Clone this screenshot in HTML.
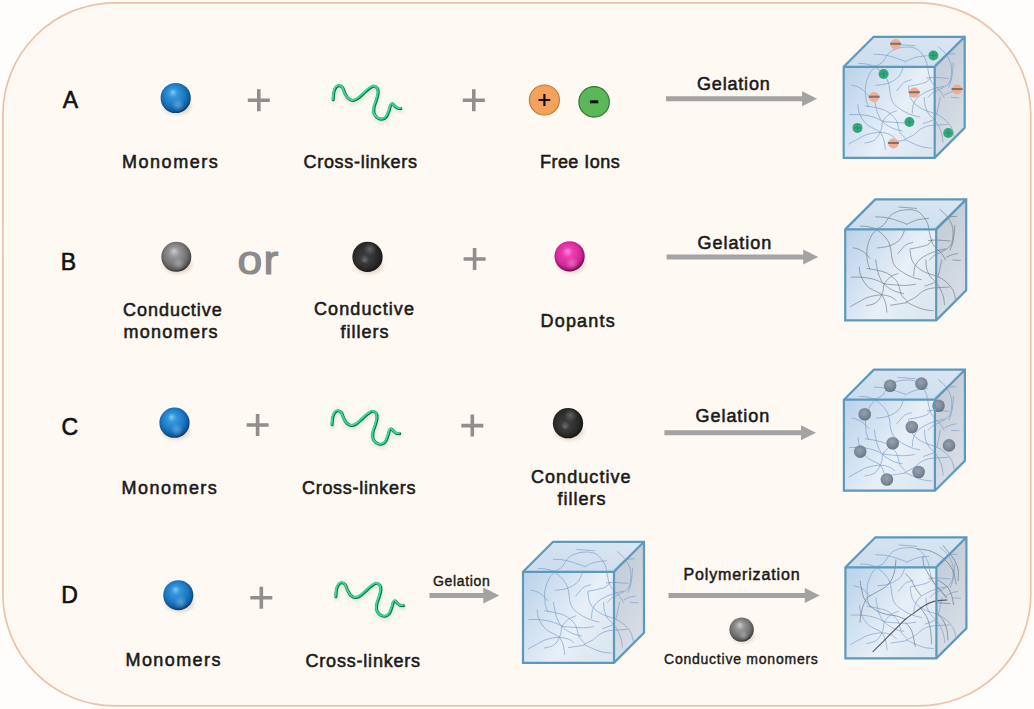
<!DOCTYPE html>
<html><head><meta charset="utf-8"><style>html,body{margin:0;padding:0;background:#fefefe;}svg{display:block}</style></head>
<body>
<svg width="1034" height="709" viewBox="0 0 1034 709">

<defs>
 <radialGradient id="gBlue" cx="0.47" cy="0.45" r="0.56" fx="0.4" fy="0.3">
  <stop offset="0" stop-color="#7fcaf6"/>
  <stop offset="0.25" stop-color="#3597db"/>
  <stop offset="0.65" stop-color="#1a78c2"/>
  <stop offset="0.88" stop-color="#0f5a9e"/>
  <stop offset="1" stop-color="#07325f"/>
 </radialGradient>
 <radialGradient id="gRefl" cx="0.58" cy="0.74" r="0.22">
  <stop offset="0" stop-color="#ffffff" stop-opacity="0.28"/>
  <stop offset="1" stop-color="#ffffff" stop-opacity="0"/>
 </radialGradient>
 <radialGradient id="gGray" cx="0.47" cy="0.45" r="0.56" fx="0.42" fy="0.3">
  <stop offset="0" stop-color="#cdcdcd"/>
  <stop offset="0.3" stop-color="#969696"/>
  <stop offset="0.72" stop-color="#707070"/>
  <stop offset="0.88" stop-color="#575757"/>
  <stop offset="1" stop-color="#2a2a2a"/>
 </radialGradient>
 <radialGradient id="gBlack" cx="0.45" cy="0.42" r="0.6" fx="0.4" fy="0.62">
  <stop offset="0" stop-color="#6e6e6e"/>
  <stop offset="0.25" stop-color="#3a3a3a"/>
  <stop offset="0.75" stop-color="#262626"/>
  <stop offset="1" stop-color="#111"/>
 </radialGradient>
 <radialGradient id="gBlackHi" cx="0.58" cy="0.24" r="0.22">
  <stop offset="0" stop-color="#777" stop-opacity="0.7"/>
  <stop offset="1" stop-color="#777" stop-opacity="0"/>
 </radialGradient>
 <radialGradient id="gPink" cx="0.47" cy="0.45" r="0.56" fx="0.43" fy="0.33">
  <stop offset="0" stop-color="#ff8eea"/>
  <stop offset="0.3" stop-color="#ec3cae"/>
  <stop offset="0.72" stop-color="#d42a98"/>
  <stop offset="0.88" stop-color="#a8167a"/>
  <stop offset="1" stop-color="#5c0642"/>
 </radialGradient>
 <radialGradient id="gSmall" cx="0.45" cy="0.42" r="0.6" fx="0.45" fy="0.38">
  <stop offset="0" stop-color="#8c9aaa"/>
  <stop offset="0.6" stop-color="#748292"/>
  <stop offset="1" stop-color="#5a6775"/>
 </radialGradient>
 <radialGradient id="gShadow" cx="0.5" cy="0.5" r="0.5">
  <stop offset="0" stop-color="#000" stop-opacity="0.25"/>
  <stop offset="1" stop-color="#000" stop-opacity="0"/>
 </radialGradient>
 <linearGradient id="gFront" x1="0" y1="0.1" x2="1" y2="0.7">
  <stop offset="0" stop-color="#bcd3ea"/>
  <stop offset="0.62" stop-color="#e7eff7"/>
  <stop offset="1" stop-color="#dce7f1"/>
 </linearGradient>
 <linearGradient id="gTop" x1="0" y1="1" x2="1" y2="0">
  <stop offset="0" stop-color="#cadcee"/>
  <stop offset="1" stop-color="#dbe6f1"/>
 </linearGradient>
 <linearGradient id="gSide" x1="0" y1="0" x2="0.3" y2="1">
  <stop offset="0" stop-color="#bec8d4"/>
  <stop offset="1" stop-color="#d8dee6"/>
 </linearGradient>
 <filter id="soft" x="-20%" y="-20%" width="140%" height="140%"><feGaussianBlur stdDeviation="0.45"/></filter>
 <filter id="shblur" x="-50%" y="-50%" width="200%" height="200%"><feGaussianBlur stdDeviation="1.5"/></filter>
</defs>

<rect width="1034" height="709" fill="#fffdfb"/>
<rect x="2.9" y="2.8" width="1027.9" height="703.1" rx="112" ry="112" fill="#fef9f2" stroke="#edc2a6" stroke-width="1.7"/>
<text x="70.5" y="107.6" font-size="23" font-weight="normal" fill="#111" text-anchor="middle" font-family="Liberation Sans, sans-serif" stroke="#111" stroke-width="0.6">A</text>
<text x="68.5" y="269.8" font-size="23" font-weight="normal" fill="#111" text-anchor="middle" font-family="Liberation Sans, sans-serif" stroke="#111" stroke-width="0.6">B</text>
<text x="69.7" y="434.5" font-size="23" font-weight="normal" fill="#111" text-anchor="middle" font-family="Liberation Sans, sans-serif" stroke="#111" stroke-width="0.6">C</text>
<text x="69.5" y="602.8" font-size="23" font-weight="normal" fill="#111" text-anchor="middle" font-family="Liberation Sans, sans-serif" stroke="#111" stroke-width="0.6">D</text>
<ellipse cx="177.2" cy="106.305" rx="14.344999999999999" ry="9.059999999999999" fill="#6b5030" fill-opacity="0.16" filter="url(#shblur)"/>
<circle cx="175.7" cy="98" r="15.1" fill="url(#gBlue)" filter="url(#soft)"/>
<circle cx="175.7" cy="98" r="15.1" fill="url(#gRefl)"/>
<path d="M247.8,100.3H269.8M258.8,89.3V111.3" stroke="#8f8f8f" stroke-width="3.6" fill="none"/>
<path d="M462.8,100.3H484.8M473.8,89.3V111.3" stroke="#8f8f8f" stroke-width="3.6" fill="none"/>
<g transform="translate(0,0)">
<path d="M333.2,99.8 C333.3,98.6 333.4,94.5 333.9,92.5 C334.4,90.5 335.1,88.6 336.0,87.5 C336.9,86.4 337.9,85.8 339.0,85.8 C340.1,85.8 341.6,86.4 342.6,87.6 C343.6,88.8 343.9,91.2 344.8,93.0 C345.7,94.8 346.7,97.0 348.0,98.3 C349.3,99.5 350.9,100.4 352.5,100.5 C354.1,100.6 355.8,99.8 357.5,98.8 C359.2,97.8 361.0,95.9 362.8,94.3 C364.6,92.7 366.7,90.6 368.5,89.3 C370.3,88.0 371.9,86.5 373.4,86.3 C374.9,86.1 376.5,87.2 377.3,88.3 C378.1,89.4 378.3,91.0 378.2,93.0 C378.1,95.0 377.2,97.7 376.5,100.0 C375.8,102.3 374.6,104.8 374.2,107.0 C373.8,109.2 373.5,111.2 374.0,113.0 C374.5,114.8 375.7,116.5 377.0,117.6 C378.3,118.6 380.4,119.4 382.0,119.3 C383.6,119.2 385.1,118.4 386.3,117.0 C387.5,115.6 388.3,112.9 389.0,111.0 C389.7,109.1 390.1,106.7 390.6,105.5 C391.2,104.3 391.6,103.7 392.3,103.8 C393.0,103.9 393.7,105.3 394.6,106.0 C395.5,106.7 396.6,107.8 397.6,108.2 C398.6,108.6 400.3,108.5 400.8,108.6" transform="translate(0.8,2.2)" stroke="#6b4a2a" stroke-opacity="0.14" stroke-width="3.6" fill="none" stroke-linecap="round" filter="url(#shblur)"/>
<path d="M333.2,99.8 C333.3,98.6 333.4,94.5 333.9,92.5 C334.4,90.5 335.1,88.6 336.0,87.5 C336.9,86.4 337.9,85.8 339.0,85.8 C340.1,85.8 341.6,86.4 342.6,87.6 C343.6,88.8 343.9,91.2 344.8,93.0 C345.7,94.8 346.7,97.0 348.0,98.3 C349.3,99.5 350.9,100.4 352.5,100.5 C354.1,100.6 355.8,99.8 357.5,98.8 C359.2,97.8 361.0,95.9 362.8,94.3 C364.6,92.7 366.7,90.6 368.5,89.3 C370.3,88.0 371.9,86.5 373.4,86.3 C374.9,86.1 376.5,87.2 377.3,88.3 C378.1,89.4 378.3,91.0 378.2,93.0 C378.1,95.0 377.2,97.7 376.5,100.0 C375.8,102.3 374.6,104.8 374.2,107.0 C373.8,109.2 373.5,111.2 374.0,113.0 C374.5,114.8 375.7,116.5 377.0,117.6 C378.3,118.6 380.4,119.4 382.0,119.3 C383.6,119.2 385.1,118.4 386.3,117.0 C387.5,115.6 388.3,112.9 389.0,111.0 C389.7,109.1 390.1,106.7 390.6,105.5 C391.2,104.3 391.6,103.7 392.3,103.8 C393.0,103.9 393.7,105.3 394.6,106.0 C395.5,106.7 396.6,107.8 397.6,108.2 C398.6,108.6 400.3,108.5 400.8,108.6" stroke="#8ef0c2" stroke-opacity="0.45" stroke-width="4.2" fill="none" stroke-linecap="round" filter="url(#soft)"/>
<path d="M333.2,99.8 C333.3,98.6 333.4,94.5 333.9,92.5 C334.4,90.5 335.1,88.6 336.0,87.5 C336.9,86.4 337.9,85.8 339.0,85.8 C340.1,85.8 341.6,86.4 342.6,87.6 C343.6,88.8 343.9,91.2 344.8,93.0 C345.7,94.8 346.7,97.0 348.0,98.3 C349.3,99.5 350.9,100.4 352.5,100.5 C354.1,100.6 355.8,99.8 357.5,98.8 C359.2,97.8 361.0,95.9 362.8,94.3 C364.6,92.7 366.7,90.6 368.5,89.3 C370.3,88.0 371.9,86.5 373.4,86.3 C374.9,86.1 376.5,87.2 377.3,88.3 C378.1,89.4 378.3,91.0 378.2,93.0 C378.1,95.0 377.2,97.7 376.5,100.0 C375.8,102.3 374.6,104.8 374.2,107.0 C373.8,109.2 373.5,111.2 374.0,113.0 C374.5,114.8 375.7,116.5 377.0,117.6 C378.3,118.6 380.4,119.4 382.0,119.3 C383.6,119.2 385.1,118.4 386.3,117.0 C387.5,115.6 388.3,112.9 389.0,111.0 C389.7,109.1 390.1,106.7 390.6,105.5 C391.2,104.3 391.6,103.7 392.3,103.8 C393.0,103.9 393.7,105.3 394.6,106.0 C395.5,106.7 396.6,107.8 397.6,108.2 C398.6,108.6 400.3,108.5 400.8,108.6" stroke="#0c7045" stroke-width="2.9" fill="none" stroke-linecap="round"/>
<path d="M333.2,99.8 C333.3,98.6 333.4,94.5 333.9,92.5 C334.4,90.5 335.1,88.6 336.0,87.5 C336.9,86.4 337.9,85.8 339.0,85.8 C340.1,85.8 341.6,86.4 342.6,87.6 C343.6,88.8 343.9,91.2 344.8,93.0 C345.7,94.8 346.7,97.0 348.0,98.3 C349.3,99.5 350.9,100.4 352.5,100.5 C354.1,100.6 355.8,99.8 357.5,98.8 C359.2,97.8 361.0,95.9 362.8,94.3 C364.6,92.7 366.7,90.6 368.5,89.3 C370.3,88.0 371.9,86.5 373.4,86.3 C374.9,86.1 376.5,87.2 377.3,88.3 C378.1,89.4 378.3,91.0 378.2,93.0 C378.1,95.0 377.2,97.7 376.5,100.0 C375.8,102.3 374.6,104.8 374.2,107.0 C373.8,109.2 373.5,111.2 374.0,113.0 C374.5,114.8 375.7,116.5 377.0,117.6 C378.3,118.6 380.4,119.4 382.0,119.3 C383.6,119.2 385.1,118.4 386.3,117.0 C387.5,115.6 388.3,112.9 389.0,111.0 C389.7,109.1 390.1,106.7 390.6,105.5 C391.2,104.3 391.6,103.7 392.3,103.8 C393.0,103.9 393.7,105.3 394.6,106.0 C395.5,106.7 396.6,107.8 397.6,108.2 C398.6,108.6 400.3,108.5 400.8,108.6" transform="translate(-0.45,-0.55)" stroke="#3cd898" stroke-width="1.9" fill="none" stroke-linecap="round"/>
</g>
<circle cx="544.4" cy="100" r="15" fill="#f4a15c" stroke="#c77a3a" stroke-width="1.2"/>
<path d="M538.5,100H550.3M544.4,94.1V105.9" stroke="#111" stroke-width="2.2"/>
<circle cx="594.1" cy="101.9" r="15.2" fill="#5cb65a" stroke="#2f7a34" stroke-width="1.2"/>
<path d="M589.9,101.8H598.3" stroke="#111" stroke-width="3"/>
<text x="122.00" y="167.9" font-size="18" font-weight="normal" fill="#1a1a1a" stroke="#1a1a1a" stroke-width="0.55" letter-spacing="1.529" font-family="Liberation Sans, sans-serif">Monomers</text>
<text x="303.50" y="167.9" font-size="18" font-weight="normal" fill="#1a1a1a" stroke="#1a1a1a" stroke-width="0.55" letter-spacing="0.700" font-family="Liberation Sans, sans-serif">Cross-linkers</text>
<text x="540.00" y="167.5" font-size="18" font-weight="normal" fill="#1a1a1a" stroke="#1a1a1a" stroke-width="0.55" letter-spacing="0.450" font-family="Liberation Sans, sans-serif">Free Ions</text>
<text x="697.00" y="89.9" font-size="18" font-weight="normal" fill="#1a1a1a" stroke="#1a1a1a" stroke-width="0.55" letter-spacing="0.814" font-family="Liberation Sans, sans-serif">Gelation</text>
<path d="M666,96.3H802.1V91.3L817.1,98.8L802.1,106.3V101.3H666Z" fill="#a3a3a3"/>
<ellipse cx="177.8" cy="265.05" rx="14.25" ry="9.0" fill="#6b5030" fill-opacity="0.16" filter="url(#shblur)"/>
<circle cx="176.3" cy="256.8" r="15" fill="url(#gGray)" filter="url(#soft)"/>
<circle cx="176.3" cy="256.8" r="15" fill="url(#gRefl)"/>
<g transform="translate(237.6,273.6) scale(1.07,1)"><text x="0" y="0" font-size="41.5" font-weight="normal" fill="#8b8b8b" stroke="#8b8b8b" stroke-width="1.2" letter-spacing="1.2" font-family="Liberation Sans, sans-serif">or</text></g>
<ellipse cx="369.0" cy="265.23249999999996" rx="14.3925" ry="9.09" fill="#6b5030" fill-opacity="0.16" filter="url(#shblur)"/>
<circle cx="367.5" cy="256.9" r="15.15" fill="url(#gBlack)" filter="url(#soft)"/>
<circle cx="367.5" cy="256.9" r="15.15" fill="url(#gBlackHi)"/>
<path d="M463.6,259H485.6M474.6,248.0V270.0" stroke="#8f8f8f" stroke-width="3.6" fill="none"/>
<ellipse cx="571.1" cy="264.605" rx="14.344999999999999" ry="9.059999999999999" fill="#6b5030" fill-opacity="0.16" filter="url(#shblur)"/>
<circle cx="569.6" cy="256.3" r="15.1" fill="url(#gPink)" filter="url(#soft)"/>
<circle cx="569.6" cy="256.3" r="15.1" fill="url(#gRefl)"/>
<text x="123.00" y="315.5" font-size="18" font-weight="normal" fill="#1a1a1a" stroke="#1a1a1a" stroke-width="0.55" letter-spacing="0.967" font-family="Liberation Sans, sans-serif">Conductive</text>
<text x="123.50" y="338.2" font-size="18" font-weight="normal" fill="#1a1a1a" stroke="#1a1a1a" stroke-width="0.55" letter-spacing="1.271" font-family="Liberation Sans, sans-serif">monomers</text>
<text x="314.00" y="315.4" font-size="18" font-weight="normal" fill="#1a1a1a" stroke="#1a1a1a" stroke-width="0.55" letter-spacing="1.100" font-family="Liberation Sans, sans-serif">Conductive</text>
<text x="340.50" y="337.7" font-size="18" font-weight="normal" fill="#1a1a1a" stroke="#1a1a1a" stroke-width="0.55" letter-spacing="1.000" font-family="Liberation Sans, sans-serif">fillers</text>
<text x="540.50" y="326.5" font-size="18" font-weight="normal" fill="#1a1a1a" stroke="#1a1a1a" stroke-width="0.55" letter-spacing="1.200" font-family="Liberation Sans, sans-serif">Dopants</text>
<text x="697.50" y="249" font-size="18" font-weight="normal" fill="#1a1a1a" stroke="#1a1a1a" stroke-width="0.55" letter-spacing="0.957" font-family="Liberation Sans, sans-serif">Gelation</text>
<path d="M666.6,254.5H803.2V249.5L818.2,257L803.2,264.5V259.5H666.6Z" fill="#a3a3a3"/>
<ellipse cx="176.0" cy="431.005" rx="14.344999999999999" ry="9.059999999999999" fill="#6b5030" fill-opacity="0.16" filter="url(#shblur)"/>
<circle cx="174.5" cy="422.7" r="15.1" fill="url(#gBlue)" filter="url(#soft)"/>
<circle cx="174.5" cy="422.7" r="15.1" fill="url(#gRefl)"/>
<path d="M246.60000000000002,425H268.6M257.6,414.0V436.0" stroke="#8f8f8f" stroke-width="3.6" fill="none"/>
<path d="M461.3,425.6H483.3M472.3,414.6V436.6" stroke="#8f8f8f" stroke-width="3.6" fill="none"/>
<g transform="translate(-1.1,325.1)">
<path d="M333.2,99.8 C333.3,98.6 333.4,94.5 333.9,92.5 C334.4,90.5 335.1,88.6 336.0,87.5 C336.9,86.4 337.9,85.8 339.0,85.8 C340.1,85.8 341.6,86.4 342.6,87.6 C343.6,88.8 343.9,91.2 344.8,93.0 C345.7,94.8 346.7,97.0 348.0,98.3 C349.3,99.5 350.9,100.4 352.5,100.5 C354.1,100.6 355.8,99.8 357.5,98.8 C359.2,97.8 361.0,95.9 362.8,94.3 C364.6,92.7 366.7,90.6 368.5,89.3 C370.3,88.0 371.9,86.5 373.4,86.3 C374.9,86.1 376.5,87.2 377.3,88.3 C378.1,89.4 378.3,91.0 378.2,93.0 C378.1,95.0 377.2,97.7 376.5,100.0 C375.8,102.3 374.6,104.8 374.2,107.0 C373.8,109.2 373.5,111.2 374.0,113.0 C374.5,114.8 375.7,116.5 377.0,117.6 C378.3,118.6 380.4,119.4 382.0,119.3 C383.6,119.2 385.1,118.4 386.3,117.0 C387.5,115.6 388.3,112.9 389.0,111.0 C389.7,109.1 390.1,106.7 390.6,105.5 C391.2,104.3 391.6,103.7 392.3,103.8 C393.0,103.9 393.7,105.3 394.6,106.0 C395.5,106.7 396.6,107.8 397.6,108.2 C398.6,108.6 400.3,108.5 400.8,108.6" transform="translate(0.8,2.2)" stroke="#6b4a2a" stroke-opacity="0.14" stroke-width="3.6" fill="none" stroke-linecap="round" filter="url(#shblur)"/>
<path d="M333.2,99.8 C333.3,98.6 333.4,94.5 333.9,92.5 C334.4,90.5 335.1,88.6 336.0,87.5 C336.9,86.4 337.9,85.8 339.0,85.8 C340.1,85.8 341.6,86.4 342.6,87.6 C343.6,88.8 343.9,91.2 344.8,93.0 C345.7,94.8 346.7,97.0 348.0,98.3 C349.3,99.5 350.9,100.4 352.5,100.5 C354.1,100.6 355.8,99.8 357.5,98.8 C359.2,97.8 361.0,95.9 362.8,94.3 C364.6,92.7 366.7,90.6 368.5,89.3 C370.3,88.0 371.9,86.5 373.4,86.3 C374.9,86.1 376.5,87.2 377.3,88.3 C378.1,89.4 378.3,91.0 378.2,93.0 C378.1,95.0 377.2,97.7 376.5,100.0 C375.8,102.3 374.6,104.8 374.2,107.0 C373.8,109.2 373.5,111.2 374.0,113.0 C374.5,114.8 375.7,116.5 377.0,117.6 C378.3,118.6 380.4,119.4 382.0,119.3 C383.6,119.2 385.1,118.4 386.3,117.0 C387.5,115.6 388.3,112.9 389.0,111.0 C389.7,109.1 390.1,106.7 390.6,105.5 C391.2,104.3 391.6,103.7 392.3,103.8 C393.0,103.9 393.7,105.3 394.6,106.0 C395.5,106.7 396.6,107.8 397.6,108.2 C398.6,108.6 400.3,108.5 400.8,108.6" stroke="#8ef0c2" stroke-opacity="0.45" stroke-width="4.2" fill="none" stroke-linecap="round" filter="url(#soft)"/>
<path d="M333.2,99.8 C333.3,98.6 333.4,94.5 333.9,92.5 C334.4,90.5 335.1,88.6 336.0,87.5 C336.9,86.4 337.9,85.8 339.0,85.8 C340.1,85.8 341.6,86.4 342.6,87.6 C343.6,88.8 343.9,91.2 344.8,93.0 C345.7,94.8 346.7,97.0 348.0,98.3 C349.3,99.5 350.9,100.4 352.5,100.5 C354.1,100.6 355.8,99.8 357.5,98.8 C359.2,97.8 361.0,95.9 362.8,94.3 C364.6,92.7 366.7,90.6 368.5,89.3 C370.3,88.0 371.9,86.5 373.4,86.3 C374.9,86.1 376.5,87.2 377.3,88.3 C378.1,89.4 378.3,91.0 378.2,93.0 C378.1,95.0 377.2,97.7 376.5,100.0 C375.8,102.3 374.6,104.8 374.2,107.0 C373.8,109.2 373.5,111.2 374.0,113.0 C374.5,114.8 375.7,116.5 377.0,117.6 C378.3,118.6 380.4,119.4 382.0,119.3 C383.6,119.2 385.1,118.4 386.3,117.0 C387.5,115.6 388.3,112.9 389.0,111.0 C389.7,109.1 390.1,106.7 390.6,105.5 C391.2,104.3 391.6,103.7 392.3,103.8 C393.0,103.9 393.7,105.3 394.6,106.0 C395.5,106.7 396.6,107.8 397.6,108.2 C398.6,108.6 400.3,108.5 400.8,108.6" stroke="#0c7045" stroke-width="2.9" fill="none" stroke-linecap="round"/>
<path d="M333.2,99.8 C333.3,98.6 333.4,94.5 333.9,92.5 C334.4,90.5 335.1,88.6 336.0,87.5 C336.9,86.4 337.9,85.8 339.0,85.8 C340.1,85.8 341.6,86.4 342.6,87.6 C343.6,88.8 343.9,91.2 344.8,93.0 C345.7,94.8 346.7,97.0 348.0,98.3 C349.3,99.5 350.9,100.4 352.5,100.5 C354.1,100.6 355.8,99.8 357.5,98.8 C359.2,97.8 361.0,95.9 362.8,94.3 C364.6,92.7 366.7,90.6 368.5,89.3 C370.3,88.0 371.9,86.5 373.4,86.3 C374.9,86.1 376.5,87.2 377.3,88.3 C378.1,89.4 378.3,91.0 378.2,93.0 C378.1,95.0 377.2,97.7 376.5,100.0 C375.8,102.3 374.6,104.8 374.2,107.0 C373.8,109.2 373.5,111.2 374.0,113.0 C374.5,114.8 375.7,116.5 377.0,117.6 C378.3,118.6 380.4,119.4 382.0,119.3 C383.6,119.2 385.1,118.4 386.3,117.0 C387.5,115.6 388.3,112.9 389.0,111.0 C389.7,109.1 390.1,106.7 390.6,105.5 C391.2,104.3 391.6,103.7 392.3,103.8 C393.0,103.9 393.7,105.3 394.6,106.0 C395.5,106.7 396.6,107.8 397.6,108.2 C398.6,108.6 400.3,108.5 400.8,108.6" transform="translate(-0.45,-0.55)" stroke="#3cd898" stroke-width="1.9" fill="none" stroke-linecap="round"/>
</g>
<ellipse cx="569.5" cy="431.53249999999997" rx="14.3925" ry="9.09" fill="#6b5030" fill-opacity="0.16" filter="url(#shblur)"/>
<circle cx="568" cy="423.2" r="15.15" fill="url(#gBlack)" filter="url(#soft)"/>
<circle cx="568" cy="423.2" r="15.15" fill="url(#gBlackHi)"/>
<text x="121.50" y="493.6" font-size="18" font-weight="normal" fill="#1a1a1a" stroke="#1a1a1a" stroke-width="0.55" letter-spacing="1.471" font-family="Liberation Sans, sans-serif">Monomers</text>
<text x="302.00" y="494.2" font-size="18" font-weight="normal" fill="#1a1a1a" stroke="#1a1a1a" stroke-width="0.55" letter-spacing="0.700" font-family="Liberation Sans, sans-serif">Cross-linkers</text>
<text x="531.00" y="482.7" font-size="18" font-weight="normal" fill="#1a1a1a" stroke="#1a1a1a" stroke-width="0.55" letter-spacing="1.056" font-family="Liberation Sans, sans-serif">Conductive</text>
<text x="557.50" y="505.3" font-size="18" font-weight="normal" fill="#1a1a1a" stroke="#1a1a1a" stroke-width="0.55" letter-spacing="1.000" font-family="Liberation Sans, sans-serif">fillers</text>
<text x="695.50" y="422.2" font-size="18" font-weight="normal" fill="#1a1a1a" stroke="#1a1a1a" stroke-width="0.55" letter-spacing="0.957" font-family="Liberation Sans, sans-serif">Gelation</text>
<path d="M664.4,430.3H801V425.3L816,432.8L801,440.3V435.3H664.4Z" fill="#a3a3a3"/>
<ellipse cx="179.8" cy="603.4775000000001" rx="14.2975" ry="9.03" fill="#6b5030" fill-opacity="0.16" filter="url(#shblur)"/>
<circle cx="178.3" cy="595.2" r="15.05" fill="url(#gBlue)" filter="url(#soft)"/>
<circle cx="178.3" cy="595.2" r="15.05" fill="url(#gRefl)"/>
<path d="M250.3,597.8H272.3M261.3,586.8V608.8" stroke="#8f8f8f" stroke-width="3.6" fill="none"/>
<g transform="translate(2.7,497.1)">
<path d="M333.2,99.8 C333.3,98.6 333.4,94.5 333.9,92.5 C334.4,90.5 335.1,88.6 336.0,87.5 C336.9,86.4 337.9,85.8 339.0,85.8 C340.1,85.8 341.6,86.4 342.6,87.6 C343.6,88.8 343.9,91.2 344.8,93.0 C345.7,94.8 346.7,97.0 348.0,98.3 C349.3,99.5 350.9,100.4 352.5,100.5 C354.1,100.6 355.8,99.8 357.5,98.8 C359.2,97.8 361.0,95.9 362.8,94.3 C364.6,92.7 366.7,90.6 368.5,89.3 C370.3,88.0 371.9,86.5 373.4,86.3 C374.9,86.1 376.5,87.2 377.3,88.3 C378.1,89.4 378.3,91.0 378.2,93.0 C378.1,95.0 377.2,97.7 376.5,100.0 C375.8,102.3 374.6,104.8 374.2,107.0 C373.8,109.2 373.5,111.2 374.0,113.0 C374.5,114.8 375.7,116.5 377.0,117.6 C378.3,118.6 380.4,119.4 382.0,119.3 C383.6,119.2 385.1,118.4 386.3,117.0 C387.5,115.6 388.3,112.9 389.0,111.0 C389.7,109.1 390.1,106.7 390.6,105.5 C391.2,104.3 391.6,103.7 392.3,103.8 C393.0,103.9 393.7,105.3 394.6,106.0 C395.5,106.7 396.6,107.8 397.6,108.2 C398.6,108.6 400.3,108.5 400.8,108.6" transform="translate(0.8,2.2)" stroke="#6b4a2a" stroke-opacity="0.14" stroke-width="3.6" fill="none" stroke-linecap="round" filter="url(#shblur)"/>
<path d="M333.2,99.8 C333.3,98.6 333.4,94.5 333.9,92.5 C334.4,90.5 335.1,88.6 336.0,87.5 C336.9,86.4 337.9,85.8 339.0,85.8 C340.1,85.8 341.6,86.4 342.6,87.6 C343.6,88.8 343.9,91.2 344.8,93.0 C345.7,94.8 346.7,97.0 348.0,98.3 C349.3,99.5 350.9,100.4 352.5,100.5 C354.1,100.6 355.8,99.8 357.5,98.8 C359.2,97.8 361.0,95.9 362.8,94.3 C364.6,92.7 366.7,90.6 368.5,89.3 C370.3,88.0 371.9,86.5 373.4,86.3 C374.9,86.1 376.5,87.2 377.3,88.3 C378.1,89.4 378.3,91.0 378.2,93.0 C378.1,95.0 377.2,97.7 376.5,100.0 C375.8,102.3 374.6,104.8 374.2,107.0 C373.8,109.2 373.5,111.2 374.0,113.0 C374.5,114.8 375.7,116.5 377.0,117.6 C378.3,118.6 380.4,119.4 382.0,119.3 C383.6,119.2 385.1,118.4 386.3,117.0 C387.5,115.6 388.3,112.9 389.0,111.0 C389.7,109.1 390.1,106.7 390.6,105.5 C391.2,104.3 391.6,103.7 392.3,103.8 C393.0,103.9 393.7,105.3 394.6,106.0 C395.5,106.7 396.6,107.8 397.6,108.2 C398.6,108.6 400.3,108.5 400.8,108.6" stroke="#8ef0c2" stroke-opacity="0.45" stroke-width="4.2" fill="none" stroke-linecap="round" filter="url(#soft)"/>
<path d="M333.2,99.8 C333.3,98.6 333.4,94.5 333.9,92.5 C334.4,90.5 335.1,88.6 336.0,87.5 C336.9,86.4 337.9,85.8 339.0,85.8 C340.1,85.8 341.6,86.4 342.6,87.6 C343.6,88.8 343.9,91.2 344.8,93.0 C345.7,94.8 346.7,97.0 348.0,98.3 C349.3,99.5 350.9,100.4 352.5,100.5 C354.1,100.6 355.8,99.8 357.5,98.8 C359.2,97.8 361.0,95.9 362.8,94.3 C364.6,92.7 366.7,90.6 368.5,89.3 C370.3,88.0 371.9,86.5 373.4,86.3 C374.9,86.1 376.5,87.2 377.3,88.3 C378.1,89.4 378.3,91.0 378.2,93.0 C378.1,95.0 377.2,97.7 376.5,100.0 C375.8,102.3 374.6,104.8 374.2,107.0 C373.8,109.2 373.5,111.2 374.0,113.0 C374.5,114.8 375.7,116.5 377.0,117.6 C378.3,118.6 380.4,119.4 382.0,119.3 C383.6,119.2 385.1,118.4 386.3,117.0 C387.5,115.6 388.3,112.9 389.0,111.0 C389.7,109.1 390.1,106.7 390.6,105.5 C391.2,104.3 391.6,103.7 392.3,103.8 C393.0,103.9 393.7,105.3 394.6,106.0 C395.5,106.7 396.6,107.8 397.6,108.2 C398.6,108.6 400.3,108.5 400.8,108.6" stroke="#0c7045" stroke-width="2.9" fill="none" stroke-linecap="round"/>
<path d="M333.2,99.8 C333.3,98.6 333.4,94.5 333.9,92.5 C334.4,90.5 335.1,88.6 336.0,87.5 C336.9,86.4 337.9,85.8 339.0,85.8 C340.1,85.8 341.6,86.4 342.6,87.6 C343.6,88.8 343.9,91.2 344.8,93.0 C345.7,94.8 346.7,97.0 348.0,98.3 C349.3,99.5 350.9,100.4 352.5,100.5 C354.1,100.6 355.8,99.8 357.5,98.8 C359.2,97.8 361.0,95.9 362.8,94.3 C364.6,92.7 366.7,90.6 368.5,89.3 C370.3,88.0 371.9,86.5 373.4,86.3 C374.9,86.1 376.5,87.2 377.3,88.3 C378.1,89.4 378.3,91.0 378.2,93.0 C378.1,95.0 377.2,97.7 376.5,100.0 C375.8,102.3 374.6,104.8 374.2,107.0 C373.8,109.2 373.5,111.2 374.0,113.0 C374.5,114.8 375.7,116.5 377.0,117.6 C378.3,118.6 380.4,119.4 382.0,119.3 C383.6,119.2 385.1,118.4 386.3,117.0 C387.5,115.6 388.3,112.9 389.0,111.0 C389.7,109.1 390.1,106.7 390.6,105.5 C391.2,104.3 391.6,103.7 392.3,103.8 C393.0,103.9 393.7,105.3 394.6,106.0 C395.5,106.7 396.6,107.8 397.6,108.2 C398.6,108.6 400.3,108.5 400.8,108.6" transform="translate(-0.45,-0.55)" stroke="#3cd898" stroke-width="1.9" fill="none" stroke-linecap="round"/>
</g>
<text x="125.50" y="666.2" font-size="18" font-weight="normal" fill="#1a1a1a" stroke="#1a1a1a" stroke-width="0.55" letter-spacing="1.414" font-family="Liberation Sans, sans-serif">Monomers</text>
<text x="305.50" y="666.7" font-size="18" font-weight="normal" fill="#1a1a1a" stroke="#1a1a1a" stroke-width="0.55" letter-spacing="0.800" font-family="Liberation Sans, sans-serif">Cross-linkers</text>
<text x="433.00" y="585.5" font-size="14" font-weight="normal" fill="#1a1a1a" stroke="#1a1a1a" stroke-width="0.4" letter-spacing="0.671" font-family="Liberation Sans, sans-serif">Gelation</text>
<path d="M429.5,593.0H483.3V587.5L499.3,595.5L483.3,603.5V598.0H429.5Z" fill="#a3a3a3"/>
<text x="683.50" y="580.1" font-size="16" font-weight="normal" fill="#1a1a1a" stroke="#1a1a1a" stroke-width="0.5" letter-spacing="0.854" font-family="Liberation Sans, sans-serif">Polymerization</text>
<path d="M668.5,592.9H804.8V587.9L819.8,595.4L804.8,602.9V597.9H668.5Z" fill="#a3a3a3"/>
<ellipse cx="743.1" cy="636.3100000000001" rx="11.589999999999998" ry="7.319999999999999" fill="#6b5030" fill-opacity="0.16" filter="url(#shblur)"/>
<circle cx="741.6" cy="629.6" r="12.2" fill="url(#gGray)" filter="url(#soft)"/>
<circle cx="741.6" cy="629.6" r="12.2" fill="url(#gRefl)"/>
<text x="664.00" y="664.0" font-size="14" font-weight="normal" fill="#1a1a1a" stroke="#1a1a1a" stroke-width="0.4" letter-spacing="0.767" font-family="Liberation Sans, sans-serif">Conductive monomers</text>
<g>
<path d="M843.7,66.8L873.7,36.8H964.7L934.7,66.8Z" fill="url(#gTop)"/>
<path d="M934.7,66.8L964.7,36.8V127.80000000000001L934.7,157.8Z" fill="url(#gSide)"/>
<rect x="843.7" y="66.8" width="91" height="91" fill="url(#gFront)"/>
<g transform="translate(843.7,66.8)" fill="none" stroke-linecap="round">
<path d="M15.1,-3.3 C16.3,-3.2 20.0,-3.2 22.1,-2.9 C24.2,-2.6 25.9,-1.8 27.6,-1.5 C29.3,-1.2 30.4,-0.5 32.3,-1.0 C34.2,-1.5 37.1,-3.2 38.8,-4.7 C40.5,-6.2 41.1,-8.5 42.5,-10.3 C43.9,-12.1 45.2,-14.0 47.2,-15.4 C49.2,-16.8 52.4,-18.0 54.7,-18.7 C57.0,-19.4 59.1,-19.5 61.1,-19.6 C63.1,-19.8 64.7,-19.9 66.7,-19.6 C68.7,-19.3 71.2,-18.9 73.2,-17.7 C75.2,-16.4 77.2,-14.1 78.8,-12.1 C80.3,-10.1 81.6,-8.2 82.5,-5.6 C83.4,-3.0 83.8,0.9 84.4,3.7 C85.0,6.5 85.4,8.9 86.2,11.1 C87.0,13.3 87.3,14.5 89.0,16.7 C90.7,18.9 94.6,21.9 96.5,24.2 C98.4,26.5 99.6,29.5 100.2,30.6 M30.4,-12.5 C31.8,-12.4 36.0,-12.5 38.8,-12.1 C41.6,-11.7 44.4,-11.1 47.2,-10.3 C50.0,-9.5 53.3,-8.3 55.6,-7.5 C57.9,-6.7 60.2,-6.0 61.1,-5.7 M61.1,-4.7 C62.0,-5.2 64.7,-6.7 66.7,-7.5 C68.7,-8.3 70.4,-9.2 73.2,-9.8 C76.0,-10.4 81.7,-10.8 83.4,-11.0 M53.7,-22.4 C54.9,-22.3 58.2,-22.0 61.1,-21.8 C64.0,-21.6 69.6,-21.1 71.3,-21.0 M31.4,0.4 C30.6,1.2 28.1,3.2 26.7,5.5 C25.3,7.8 23.9,11.1 23.0,13.9 C22.1,16.7 21.8,19.5 21.6,22.3 C21.5,25.1 21.9,28.4 22.1,30.6 C22.3,32.8 22.5,33.8 23.0,35.3 C23.5,36.8 24.6,39.1 24.9,39.9 M31.4,0.4 C32.3,1.1 35.1,2.8 37.0,4.6 C38.9,6.4 41.1,8.8 42.5,11.1 C43.9,13.4 44.5,15.4 45.3,18.6 C46.1,21.9 46.2,27.4 47.2,30.6 C48.2,33.8 48.8,35.7 51.0,38.0 C53.2,40.3 57.4,42.9 60.3,44.6 C63.2,46.3 65.9,47.4 68.5,48.3 C71.1,49.2 74.8,49.9 76.0,50.2 M32.3,18.5 C33.5,18.4 37.2,18.1 39.7,17.6 C42.2,17.1 44.7,16.5 47.2,15.3 C49.7,14.1 52.8,12.1 54.7,10.2 C56.6,8.2 57.6,5.3 58.4,3.6 C59.2,1.9 59.1,0.5 59.3,-0.1 M8.1,18.5 C9.0,18.7 11.8,19.1 13.7,19.9 C15.6,20.7 17.4,21.7 19.3,23.2 C21.2,24.7 24.0,27.9 24.9,28.8 M52.8,24.1 C53.7,23.0 57.0,19.1 58.4,17.6 C59.8,16.1 59.6,16.0 61.1,15.2 C62.6,14.4 66.5,13.4 67.6,13.0 M94.6,-20.0 C95.5,-19.1 98.5,-16.8 100.2,-14.9 C101.9,-13.0 103.7,-10.7 104.9,-8.4 C106.1,-6.1 107.1,-3.8 107.6,-1.0 C108.0,1.8 108.0,5.5 107.6,8.4 C107.1,11.3 106.8,14.4 104.9,16.7 C103.1,19.0 99.2,20.8 96.5,22.3 C93.8,23.9 91.0,24.6 89.0,26.0 C87.0,27.4 85.2,29.8 84.4,30.6 M109.5,-3.7 C109.4,-2.5 109.3,0.9 109.0,3.7 C108.7,6.5 108.3,10.2 107.6,13.0 C106.9,15.8 105.4,19.2 104.9,20.5 M83.4,11.1 C84.8,11.0 89.3,10.7 91.8,10.7 C94.3,10.7 96.1,10.9 98.3,11.1 C100.5,11.2 103.8,11.5 104.9,11.6 M90.9,-1.9 C91.8,-2.8 94.5,-5.8 96.5,-7.5 C98.5,-9.2 100.5,-11.2 103.0,-12.1 C105.5,-13.0 110.0,-12.8 111.4,-13.0 M64.8,20.5 C65.1,22.2 65.5,27.7 66.7,30.6 C68.0,33.5 69.8,35.8 72.3,38.0 C74.8,40.2 78.3,42.1 81.6,43.6 C84.8,45.1 88.7,45.5 91.8,46.9 C94.9,48.3 97.6,49.8 100.2,52.0 C102.8,54.2 105.9,57.4 107.6,60.4 C109.3,63.4 109.9,68.2 110.4,69.7 M64.8,19.5 C66.0,19.3 69.3,18.8 72.3,18.1 C75.2,17.4 80.0,16.6 82.5,15.3 C85.0,14.0 86.4,11.0 87.2,10.2 M68.5,46.4 C68.7,45.0 68.6,40.6 69.5,38.0 C70.4,35.4 71.8,32.8 74.0,30.6 C76.2,28.5 79.5,26.6 82.5,25.1 C85.5,23.6 88.8,22.3 91.8,21.4 C94.8,20.5 98.8,19.8 100.2,19.5 M101.1,27.9 C102.2,27.4 105.7,25.7 107.6,25.1 C109.5,24.5 111.5,24.4 112.3,24.2 M21.6,39.0 C23.4,39.3 29.0,40.1 32.3,40.9 C35.6,41.7 39.0,42.4 41.6,43.6 C44.2,44.8 46.3,46.6 48.2,48.3 C50.1,50.0 51.7,51.9 52.8,53.9 C53.9,55.9 54.1,58.4 54.7,60.4 C55.3,62.4 55.4,64.3 56.5,66.0 C57.6,67.7 60.3,69.8 61.1,70.6 M30.5,30.6 C30.6,31.5 30.9,33.9 31.4,36.2 C31.9,38.5 32.5,42.1 33.3,44.6 C34.1,47.1 35.2,49.4 36.1,51.1 C37.0,52.8 37.7,53.6 38.9,54.8 C40.1,56.0 41.5,57.2 43.5,58.5 C45.5,59.8 48.5,61.4 51.0,62.3 C53.5,63.2 57.2,63.8 58.4,64.1 M5.8,47.8 C7.4,47.8 12.3,47.6 15.6,47.8 C18.9,48.0 22.7,48.5 25.8,49.2 C28.9,49.9 32.0,51.1 34.2,52.0 C36.4,52.9 36.7,53.8 38.9,54.3 C41.1,54.8 43.5,55.0 47.2,55.3 C50.9,55.6 57.2,56.1 61.1,56.0 C65.0,55.9 68.9,55.0 70.4,54.8 M14.2,38.0 C14.3,39.1 14.4,42.3 15.1,44.6 C15.8,46.9 16.9,49.7 18.4,52.0 C19.9,54.3 21.8,56.8 24.0,58.5 C26.2,60.2 29.4,61.2 31.4,62.3 C33.4,63.4 34.9,63.8 36.1,65.0 C37.4,66.2 38.1,68.0 38.9,69.7 C39.7,71.4 40.2,73.1 40.7,75.3 C41.2,77.5 41.5,81.5 41.6,82.7 M5.3,77.1 C6.7,76.3 10.8,74.0 13.7,72.5 C16.6,71.0 19.3,69.0 23.0,67.8 C26.7,66.6 32.4,65.6 36.1,65.5 C39.8,65.4 42.9,66.5 45.4,67.4 C47.9,68.3 50.1,70.5 51.0,71.1 M21.2,76.2 C22.4,75.9 26.4,75.5 28.6,74.4 C30.8,73.3 32.7,71.9 34.2,69.7 C35.8,67.5 37.1,63.8 37.9,61.3 C38.7,58.8 37.6,57.1 38.9,54.8 C40.1,52.5 43.1,49.2 45.4,47.4 C47.7,45.6 51.6,44.6 52.8,44.1 M45.4,75.8 C47.0,75.6 52.1,74.8 54.7,74.4 C57.3,74.0 60.0,73.6 61.1,73.4 M79.7,56.7 C81.2,56.2 87.0,54.2 89.0,53.4 C91.0,52.6 91.3,52.2 91.8,52.0 M61.1,72.5 C62.7,71.7 67.8,69.5 70.4,67.8 C73.0,66.1 74.4,63.8 76.9,62.3 C79.4,60.8 82.0,59.7 85.3,59.0 C88.6,58.3 93.4,58.3 96.5,58.1 C99.6,57.9 102.7,57.7 103.9,57.6 M61.1,72.5 C62.3,73.1 65.7,75.0 68.5,76.2 C71.3,77.4 74.6,79.1 77.9,79.9 C81.2,80.8 86.4,81.1 88.1,81.3 M80.6,30.6 C80.8,32.1 80.8,37.1 81.6,39.9 C82.4,42.7 83.8,45.2 85.3,47.4 C86.8,49.6 89.2,50.7 90.9,52.9 C92.6,55.1 94.3,57.9 95.5,60.4 C96.7,62.9 97.7,65.3 98.3,67.8 C98.9,70.3 99.1,74.0 99.3,75.3 M96.5,30.6 C96.2,32.1 95.2,37.1 94.6,39.9 C94.0,42.7 93.1,46.1 92.8,47.4 M107.6,30.6 C108.8,30.7 113.8,30.9 115.1,31.0" stroke="#7399c8" stroke-width="0.85" stroke-opacity="0.75"/>
</g>
<circle cx="895.6" cy="44.2" r="5.1" fill="#f0ad90" filter="url(#soft)"/>
<rect x="890.1" y="42.7" width="11" height="2.1" fill="#83726e" filter="url(#soft)"/>
<circle cx="874.1" cy="97.2" r="5.1" fill="#f0ad90" filter="url(#soft)"/>
<rect x="868.6" y="95.7" width="11" height="2.1" fill="#83726e" filter="url(#soft)"/>
<circle cx="914.3" cy="92.7" r="5.1" fill="#f0ad90" filter="url(#soft)"/>
<rect x="908.8" y="91.2" width="11" height="2.1" fill="#83726e" filter="url(#soft)"/>
<circle cx="957.1" cy="89.5" r="5.1" fill="#f0ad90" filter="url(#soft)"/>
<rect x="951.6" y="88.0" width="11" height="2.1" fill="#83726e" filter="url(#soft)"/>
<circle cx="893.4" cy="143.4" r="5.1" fill="#f0ad90" filter="url(#soft)"/>
<rect x="887.9" y="141.9" width="11" height="2.1" fill="#83726e" filter="url(#soft)"/>
<circle cx="933.4" cy="55.5" r="5" fill="#31a97f" filter="url(#soft)"/>
<path d="M929.9,55.5H936.9M933.4,52.0V59.0" stroke="#1f8a62" stroke-width="0.7"/>
<circle cx="883.6" cy="74" r="5" fill="#31a97f" filter="url(#soft)"/>
<path d="M880.1,74H887.1M883.6,70.5V77.5" stroke="#1f8a62" stroke-width="0.7"/>
<circle cx="857.5" cy="127.9" r="5" fill="#31a97f" filter="url(#soft)"/>
<path d="M854.0,127.9H861.0M857.5,124.4V131.4" stroke="#1f8a62" stroke-width="0.7"/>
<circle cx="909.4" cy="122" r="5" fill="#31a97f" filter="url(#soft)"/>
<path d="M905.9,122H912.9M909.4,118.5V125.5" stroke="#1f8a62" stroke-width="0.7"/>
<circle cx="948.2" cy="133" r="5" fill="#31a97f" filter="url(#soft)"/>
<path d="M944.7,133H951.7M948.2,129.5V136.5" stroke="#1f8a62" stroke-width="0.7"/>
<path d="M843.7,66.8L873.7,36.8H964.7V127.80000000000001L934.7,157.8H843.7Z M843.7,66.8H934.7V157.8 M934.7,66.8L964.7,36.8" stroke="#5c99bd" stroke-width="2.2" fill="none" stroke-linejoin="miter"/>
</g>
<g>
<path d="M845.2,229.4L875.2,199.4H966.2L936.2,229.4Z" fill="url(#gTop)"/>
<path d="M936.2,229.4L966.2,199.4V290.4L936.2,320.4Z" fill="url(#gSide)"/>
<rect x="845.2" y="229.4" width="91" height="91" fill="url(#gFront)"/>
<g transform="translate(845.2,229.4)" fill="none" stroke-linecap="round">
<path d="M15.1,-3.3 C16.3,-3.2 20.0,-3.2 22.1,-2.9 C24.2,-2.6 25.9,-1.8 27.6,-1.5 C29.3,-1.2 30.4,-0.5 32.3,-1.0 C34.2,-1.5 37.1,-3.2 38.8,-4.7 C40.5,-6.2 41.1,-8.5 42.5,-10.3 C43.9,-12.1 45.2,-14.0 47.2,-15.4 C49.2,-16.8 52.4,-18.0 54.7,-18.7 C57.0,-19.4 59.1,-19.5 61.1,-19.6 C63.1,-19.8 64.7,-19.9 66.7,-19.6 C68.7,-19.3 71.2,-18.9 73.2,-17.7 C75.2,-16.4 77.2,-14.1 78.8,-12.1 C80.3,-10.1 81.6,-8.2 82.5,-5.6 C83.4,-3.0 83.8,0.9 84.4,3.7 C85.0,6.5 85.4,8.9 86.2,11.1 C87.0,13.3 87.3,14.5 89.0,16.7 C90.7,18.9 94.6,21.9 96.5,24.2 C98.4,26.5 99.6,29.5 100.2,30.6 M30.4,-12.5 C31.8,-12.4 36.0,-12.5 38.8,-12.1 C41.6,-11.7 44.4,-11.1 47.2,-10.3 C50.0,-9.5 53.3,-8.3 55.6,-7.5 C57.9,-6.7 60.2,-6.0 61.1,-5.7 M61.1,-4.7 C62.0,-5.2 64.7,-6.7 66.7,-7.5 C68.7,-8.3 70.4,-9.2 73.2,-9.8 C76.0,-10.4 81.7,-10.8 83.4,-11.0 M53.7,-22.4 C54.9,-22.3 58.2,-22.0 61.1,-21.8 C64.0,-21.6 69.6,-21.1 71.3,-21.0 M31.4,0.4 C30.6,1.2 28.1,3.2 26.7,5.5 C25.3,7.8 23.9,11.1 23.0,13.9 C22.1,16.7 21.8,19.5 21.6,22.3 C21.5,25.1 21.9,28.4 22.1,30.6 C22.3,32.8 22.5,33.8 23.0,35.3 C23.5,36.8 24.6,39.1 24.9,39.9 M31.4,0.4 C32.3,1.1 35.1,2.8 37.0,4.6 C38.9,6.4 41.1,8.8 42.5,11.1 C43.9,13.4 44.5,15.4 45.3,18.6 C46.1,21.9 46.2,27.4 47.2,30.6 C48.2,33.8 48.8,35.7 51.0,38.0 C53.2,40.3 57.4,42.9 60.3,44.6 C63.2,46.3 65.9,47.4 68.5,48.3 C71.1,49.2 74.8,49.9 76.0,50.2 M32.3,18.5 C33.5,18.4 37.2,18.1 39.7,17.6 C42.2,17.1 44.7,16.5 47.2,15.3 C49.7,14.1 52.8,12.1 54.7,10.2 C56.6,8.2 57.6,5.3 58.4,3.6 C59.2,1.9 59.1,0.5 59.3,-0.1 M8.1,18.5 C9.0,18.7 11.8,19.1 13.7,19.9 C15.6,20.7 17.4,21.7 19.3,23.2 C21.2,24.7 24.0,27.9 24.9,28.8 M52.8,24.1 C53.7,23.0 57.0,19.1 58.4,17.6 C59.8,16.1 59.6,16.0 61.1,15.2 C62.6,14.4 66.5,13.4 67.6,13.0 M94.6,-20.0 C95.5,-19.1 98.5,-16.8 100.2,-14.9 C101.9,-13.0 103.7,-10.7 104.9,-8.4 C106.1,-6.1 107.1,-3.8 107.6,-1.0 C108.0,1.8 108.0,5.5 107.6,8.4 C107.1,11.3 106.8,14.4 104.9,16.7 C103.1,19.0 99.2,20.8 96.5,22.3 C93.8,23.9 91.0,24.6 89.0,26.0 C87.0,27.4 85.2,29.8 84.4,30.6 M109.5,-3.7 C109.4,-2.5 109.3,0.9 109.0,3.7 C108.7,6.5 108.3,10.2 107.6,13.0 C106.9,15.8 105.4,19.2 104.9,20.5 M83.4,11.1 C84.8,11.0 89.3,10.7 91.8,10.7 C94.3,10.7 96.1,10.9 98.3,11.1 C100.5,11.2 103.8,11.5 104.9,11.6 M90.9,-1.9 C91.8,-2.8 94.5,-5.8 96.5,-7.5 C98.5,-9.2 100.5,-11.2 103.0,-12.1 C105.5,-13.0 110.0,-12.8 111.4,-13.0 M64.8,20.5 C65.1,22.2 65.5,27.7 66.7,30.6 C68.0,33.5 69.8,35.8 72.3,38.0 C74.8,40.2 78.3,42.1 81.6,43.6 C84.8,45.1 88.7,45.5 91.8,46.9 C94.9,48.3 97.6,49.8 100.2,52.0 C102.8,54.2 105.9,57.4 107.6,60.4 C109.3,63.4 109.9,68.2 110.4,69.7 M64.8,19.5 C66.0,19.3 69.3,18.8 72.3,18.1 C75.2,17.4 80.0,16.6 82.5,15.3 C85.0,14.0 86.4,11.0 87.2,10.2 M68.5,46.4 C68.7,45.0 68.6,40.6 69.5,38.0 C70.4,35.4 71.8,32.8 74.0,30.6 C76.2,28.5 79.5,26.6 82.5,25.1 C85.5,23.6 88.8,22.3 91.8,21.4 C94.8,20.5 98.8,19.8 100.2,19.5 M101.1,27.9 C102.2,27.4 105.7,25.7 107.6,25.1 C109.5,24.5 111.5,24.4 112.3,24.2 M21.6,39.0 C23.4,39.3 29.0,40.1 32.3,40.9 C35.6,41.7 39.0,42.4 41.6,43.6 C44.2,44.8 46.3,46.6 48.2,48.3 C50.1,50.0 51.7,51.9 52.8,53.9 C53.9,55.9 54.1,58.4 54.7,60.4 C55.3,62.4 55.4,64.3 56.5,66.0 C57.6,67.7 60.3,69.8 61.1,70.6 M30.5,30.6 C30.6,31.5 30.9,33.9 31.4,36.2 C31.9,38.5 32.5,42.1 33.3,44.6 C34.1,47.1 35.2,49.4 36.1,51.1 C37.0,52.8 37.7,53.6 38.9,54.8 C40.1,56.0 41.5,57.2 43.5,58.5 C45.5,59.8 48.5,61.4 51.0,62.3 C53.5,63.2 57.2,63.8 58.4,64.1 M5.8,47.8 C7.4,47.8 12.3,47.6 15.6,47.8 C18.9,48.0 22.7,48.5 25.8,49.2 C28.9,49.9 32.0,51.1 34.2,52.0 C36.4,52.9 36.7,53.8 38.9,54.3 C41.1,54.8 43.5,55.0 47.2,55.3 C50.9,55.6 57.2,56.1 61.1,56.0 C65.0,55.9 68.9,55.0 70.4,54.8 M14.2,38.0 C14.3,39.1 14.4,42.3 15.1,44.6 C15.8,46.9 16.9,49.7 18.4,52.0 C19.9,54.3 21.8,56.8 24.0,58.5 C26.2,60.2 29.4,61.2 31.4,62.3 C33.4,63.4 34.9,63.8 36.1,65.0 C37.4,66.2 38.1,68.0 38.9,69.7 C39.7,71.4 40.2,73.1 40.7,75.3 C41.2,77.5 41.5,81.5 41.6,82.7 M5.3,77.1 C6.7,76.3 10.8,74.0 13.7,72.5 C16.6,71.0 19.3,69.0 23.0,67.8 C26.7,66.6 32.4,65.6 36.1,65.5 C39.8,65.4 42.9,66.5 45.4,67.4 C47.9,68.3 50.1,70.5 51.0,71.1 M21.2,76.2 C22.4,75.9 26.4,75.5 28.6,74.4 C30.8,73.3 32.7,71.9 34.2,69.7 C35.8,67.5 37.1,63.8 37.9,61.3 C38.7,58.8 37.6,57.1 38.9,54.8 C40.1,52.5 43.1,49.2 45.4,47.4 C47.7,45.6 51.6,44.6 52.8,44.1 M45.4,75.8 C47.0,75.6 52.1,74.8 54.7,74.4 C57.3,74.0 60.0,73.6 61.1,73.4 M79.7,56.7 C81.2,56.2 87.0,54.2 89.0,53.4 C91.0,52.6 91.3,52.2 91.8,52.0 M61.1,72.5 C62.7,71.7 67.8,69.5 70.4,67.8 C73.0,66.1 74.4,63.8 76.9,62.3 C79.4,60.8 82.0,59.7 85.3,59.0 C88.6,58.3 93.4,58.3 96.5,58.1 C99.6,57.9 102.7,57.7 103.9,57.6 M61.1,72.5 C62.3,73.1 65.7,75.0 68.5,76.2 C71.3,77.4 74.6,79.1 77.9,79.9 C81.2,80.8 86.4,81.1 88.1,81.3 M80.6,30.6 C80.8,32.1 80.8,37.1 81.6,39.9 C82.4,42.7 83.8,45.2 85.3,47.4 C86.8,49.6 89.2,50.7 90.9,52.9 C92.6,55.1 94.3,57.9 95.5,60.4 C96.7,62.9 97.7,65.3 98.3,67.8 C98.9,70.3 99.1,74.0 99.3,75.3 M96.5,30.6 C96.2,32.1 95.2,37.1 94.6,39.9 C94.0,42.7 93.1,46.1 92.8,47.4 M107.6,30.6 C108.8,30.7 113.8,30.9 115.1,31.0" stroke="#6a737b" stroke-width="0.85" stroke-opacity="0.72"/>
</g>
<path d="M845.2,229.4L875.2,199.4H966.2V290.4L936.2,320.4H845.2Z M845.2,229.4H936.2V320.4 M936.2,229.4L966.2,199.4" stroke="#5c99bd" stroke-width="2.2" fill="none" stroke-linejoin="miter"/>
</g>
<g>
<path d="M843.9,399.7L873.9,369.7H964.9L934.9,399.7Z" fill="url(#gTop)"/>
<path d="M934.9,399.7L964.9,369.7V460.7L934.9,490.7Z" fill="url(#gSide)"/>
<rect x="843.9" y="399.7" width="91" height="91" fill="url(#gFront)"/>
<g transform="translate(843.9,399.7)" fill="none" stroke-linecap="round">
<path d="M15.1,-3.3 C16.3,-3.2 20.0,-3.2 22.1,-2.9 C24.2,-2.6 25.9,-1.8 27.6,-1.5 C29.3,-1.2 30.4,-0.5 32.3,-1.0 C34.2,-1.5 37.1,-3.2 38.8,-4.7 C40.5,-6.2 41.1,-8.5 42.5,-10.3 C43.9,-12.1 45.2,-14.0 47.2,-15.4 C49.2,-16.8 52.4,-18.0 54.7,-18.7 C57.0,-19.4 59.1,-19.5 61.1,-19.6 C63.1,-19.8 64.7,-19.9 66.7,-19.6 C68.7,-19.3 71.2,-18.9 73.2,-17.7 C75.2,-16.4 77.2,-14.1 78.8,-12.1 C80.3,-10.1 81.6,-8.2 82.5,-5.6 C83.4,-3.0 83.8,0.9 84.4,3.7 C85.0,6.5 85.4,8.9 86.2,11.1 C87.0,13.3 87.3,14.5 89.0,16.7 C90.7,18.9 94.6,21.9 96.5,24.2 C98.4,26.5 99.6,29.5 100.2,30.6 M30.4,-12.5 C31.8,-12.4 36.0,-12.5 38.8,-12.1 C41.6,-11.7 44.4,-11.1 47.2,-10.3 C50.0,-9.5 53.3,-8.3 55.6,-7.5 C57.9,-6.7 60.2,-6.0 61.1,-5.7 M61.1,-4.7 C62.0,-5.2 64.7,-6.7 66.7,-7.5 C68.7,-8.3 70.4,-9.2 73.2,-9.8 C76.0,-10.4 81.7,-10.8 83.4,-11.0 M53.7,-22.4 C54.9,-22.3 58.2,-22.0 61.1,-21.8 C64.0,-21.6 69.6,-21.1 71.3,-21.0 M31.4,0.4 C30.6,1.2 28.1,3.2 26.7,5.5 C25.3,7.8 23.9,11.1 23.0,13.9 C22.1,16.7 21.8,19.5 21.6,22.3 C21.5,25.1 21.9,28.4 22.1,30.6 C22.3,32.8 22.5,33.8 23.0,35.3 C23.5,36.8 24.6,39.1 24.9,39.9 M31.4,0.4 C32.3,1.1 35.1,2.8 37.0,4.6 C38.9,6.4 41.1,8.8 42.5,11.1 C43.9,13.4 44.5,15.4 45.3,18.6 C46.1,21.9 46.2,27.4 47.2,30.6 C48.2,33.8 48.8,35.7 51.0,38.0 C53.2,40.3 57.4,42.9 60.3,44.6 C63.2,46.3 65.9,47.4 68.5,48.3 C71.1,49.2 74.8,49.9 76.0,50.2 M32.3,18.5 C33.5,18.4 37.2,18.1 39.7,17.6 C42.2,17.1 44.7,16.5 47.2,15.3 C49.7,14.1 52.8,12.1 54.7,10.2 C56.6,8.2 57.6,5.3 58.4,3.6 C59.2,1.9 59.1,0.5 59.3,-0.1 M8.1,18.5 C9.0,18.7 11.8,19.1 13.7,19.9 C15.6,20.7 17.4,21.7 19.3,23.2 C21.2,24.7 24.0,27.9 24.9,28.8 M52.8,24.1 C53.7,23.0 57.0,19.1 58.4,17.6 C59.8,16.1 59.6,16.0 61.1,15.2 C62.6,14.4 66.5,13.4 67.6,13.0 M94.6,-20.0 C95.5,-19.1 98.5,-16.8 100.2,-14.9 C101.9,-13.0 103.7,-10.7 104.9,-8.4 C106.1,-6.1 107.1,-3.8 107.6,-1.0 C108.0,1.8 108.0,5.5 107.6,8.4 C107.1,11.3 106.8,14.4 104.9,16.7 C103.1,19.0 99.2,20.8 96.5,22.3 C93.8,23.9 91.0,24.6 89.0,26.0 C87.0,27.4 85.2,29.8 84.4,30.6 M109.5,-3.7 C109.4,-2.5 109.3,0.9 109.0,3.7 C108.7,6.5 108.3,10.2 107.6,13.0 C106.9,15.8 105.4,19.2 104.9,20.5 M83.4,11.1 C84.8,11.0 89.3,10.7 91.8,10.7 C94.3,10.7 96.1,10.9 98.3,11.1 C100.5,11.2 103.8,11.5 104.9,11.6 M90.9,-1.9 C91.8,-2.8 94.5,-5.8 96.5,-7.5 C98.5,-9.2 100.5,-11.2 103.0,-12.1 C105.5,-13.0 110.0,-12.8 111.4,-13.0 M64.8,20.5 C65.1,22.2 65.5,27.7 66.7,30.6 C68.0,33.5 69.8,35.8 72.3,38.0 C74.8,40.2 78.3,42.1 81.6,43.6 C84.8,45.1 88.7,45.5 91.8,46.9 C94.9,48.3 97.6,49.8 100.2,52.0 C102.8,54.2 105.9,57.4 107.6,60.4 C109.3,63.4 109.9,68.2 110.4,69.7 M64.8,19.5 C66.0,19.3 69.3,18.8 72.3,18.1 C75.2,17.4 80.0,16.6 82.5,15.3 C85.0,14.0 86.4,11.0 87.2,10.2 M68.5,46.4 C68.7,45.0 68.6,40.6 69.5,38.0 C70.4,35.4 71.8,32.8 74.0,30.6 C76.2,28.5 79.5,26.6 82.5,25.1 C85.5,23.6 88.8,22.3 91.8,21.4 C94.8,20.5 98.8,19.8 100.2,19.5 M101.1,27.9 C102.2,27.4 105.7,25.7 107.6,25.1 C109.5,24.5 111.5,24.4 112.3,24.2 M21.6,39.0 C23.4,39.3 29.0,40.1 32.3,40.9 C35.6,41.7 39.0,42.4 41.6,43.6 C44.2,44.8 46.3,46.6 48.2,48.3 C50.1,50.0 51.7,51.9 52.8,53.9 C53.9,55.9 54.1,58.4 54.7,60.4 C55.3,62.4 55.4,64.3 56.5,66.0 C57.6,67.7 60.3,69.8 61.1,70.6 M30.5,30.6 C30.6,31.5 30.9,33.9 31.4,36.2 C31.9,38.5 32.5,42.1 33.3,44.6 C34.1,47.1 35.2,49.4 36.1,51.1 C37.0,52.8 37.7,53.6 38.9,54.8 C40.1,56.0 41.5,57.2 43.5,58.5 C45.5,59.8 48.5,61.4 51.0,62.3 C53.5,63.2 57.2,63.8 58.4,64.1 M5.8,47.8 C7.4,47.8 12.3,47.6 15.6,47.8 C18.9,48.0 22.7,48.5 25.8,49.2 C28.9,49.9 32.0,51.1 34.2,52.0 C36.4,52.9 36.7,53.8 38.9,54.3 C41.1,54.8 43.5,55.0 47.2,55.3 C50.9,55.6 57.2,56.1 61.1,56.0 C65.0,55.9 68.9,55.0 70.4,54.8 M14.2,38.0 C14.3,39.1 14.4,42.3 15.1,44.6 C15.8,46.9 16.9,49.7 18.4,52.0 C19.9,54.3 21.8,56.8 24.0,58.5 C26.2,60.2 29.4,61.2 31.4,62.3 C33.4,63.4 34.9,63.8 36.1,65.0 C37.4,66.2 38.1,68.0 38.9,69.7 C39.7,71.4 40.2,73.1 40.7,75.3 C41.2,77.5 41.5,81.5 41.6,82.7 M5.3,77.1 C6.7,76.3 10.8,74.0 13.7,72.5 C16.6,71.0 19.3,69.0 23.0,67.8 C26.7,66.6 32.4,65.6 36.1,65.5 C39.8,65.4 42.9,66.5 45.4,67.4 C47.9,68.3 50.1,70.5 51.0,71.1 M21.2,76.2 C22.4,75.9 26.4,75.5 28.6,74.4 C30.8,73.3 32.7,71.9 34.2,69.7 C35.8,67.5 37.1,63.8 37.9,61.3 C38.7,58.8 37.6,57.1 38.9,54.8 C40.1,52.5 43.1,49.2 45.4,47.4 C47.7,45.6 51.6,44.6 52.8,44.1 M45.4,75.8 C47.0,75.6 52.1,74.8 54.7,74.4 C57.3,74.0 60.0,73.6 61.1,73.4 M79.7,56.7 C81.2,56.2 87.0,54.2 89.0,53.4 C91.0,52.6 91.3,52.2 91.8,52.0 M61.1,72.5 C62.7,71.7 67.8,69.5 70.4,67.8 C73.0,66.1 74.4,63.8 76.9,62.3 C79.4,60.8 82.0,59.7 85.3,59.0 C88.6,58.3 93.4,58.3 96.5,58.1 C99.6,57.9 102.7,57.7 103.9,57.6 M61.1,72.5 C62.3,73.1 65.7,75.0 68.5,76.2 C71.3,77.4 74.6,79.1 77.9,79.9 C81.2,80.8 86.4,81.1 88.1,81.3 M80.6,30.6 C80.8,32.1 80.8,37.1 81.6,39.9 C82.4,42.7 83.8,45.2 85.3,47.4 C86.8,49.6 89.2,50.7 90.9,52.9 C92.6,55.1 94.3,57.9 95.5,60.4 C96.7,62.9 97.7,65.3 98.3,67.8 C98.9,70.3 99.1,74.0 99.3,75.3 M96.5,30.6 C96.2,32.1 95.2,37.1 94.6,39.9 C94.0,42.7 93.1,46.1 92.8,47.4 M107.6,30.6 C108.8,30.7 113.8,30.9 115.1,31.0" stroke="#7399c8" stroke-width="0.85" stroke-opacity="0.75"/>
</g>
<circle cx="890.1" cy="385.7" r="6.3" fill="url(#gSmall)" fill-opacity="0.9" filter="url(#soft)"/>
<circle cx="921.4" cy="383.6" r="6.3" fill="url(#gSmall)" fill-opacity="0.9" filter="url(#soft)"/>
<circle cx="938.5" cy="405.8" r="6.3" fill="url(#gSmall)" fill-opacity="0.9" filter="url(#soft)"/>
<circle cx="864.7" cy="414.2" r="6.3" fill="url(#gSmall)" fill-opacity="0.9" filter="url(#soft)"/>
<circle cx="911.8" cy="427" r="6.3" fill="url(#gSmall)" fill-opacity="0.9" filter="url(#soft)"/>
<circle cx="892.7" cy="443.2" r="6.3" fill="url(#gSmall)" fill-opacity="0.9" filter="url(#soft)"/>
<circle cx="949" cy="445.4" r="6.3" fill="url(#gSmall)" fill-opacity="0.9" filter="url(#soft)"/>
<circle cx="860.2" cy="451.6" r="6.3" fill="url(#gSmall)" fill-opacity="0.9" filter="url(#soft)"/>
<circle cx="918.6" cy="472" r="6.3" fill="url(#gSmall)" fill-opacity="0.9" filter="url(#soft)"/>
<circle cx="886.9" cy="479.5" r="6.3" fill="url(#gSmall)" fill-opacity="0.9" filter="url(#soft)"/>
<path d="M843.9,399.7L873.9,369.7H964.9V460.7L934.9,490.7H843.9Z M843.9,399.7H934.9V490.7 M934.9,399.7L964.9,369.7" stroke="#5c99bd" stroke-width="2.2" fill="none" stroke-linejoin="miter"/>
</g>
<g>
<path d="M523,571.8L553,541.8H644L614,571.8Z" fill="url(#gTop)"/>
<path d="M614,571.8L644,541.8V632.8L614,662.8Z" fill="url(#gSide)"/>
<rect x="523" y="571.8" width="91" height="91" fill="url(#gFront)"/>
<g transform="translate(523,571.8)" fill="none" stroke-linecap="round">
<path d="M15.1,-3.3 C16.3,-3.2 20.0,-3.2 22.1,-2.9 C24.2,-2.6 25.9,-1.8 27.6,-1.5 C29.3,-1.2 30.4,-0.5 32.3,-1.0 C34.2,-1.5 37.1,-3.2 38.8,-4.7 C40.5,-6.2 41.1,-8.5 42.5,-10.3 C43.9,-12.1 45.2,-14.0 47.2,-15.4 C49.2,-16.8 52.4,-18.0 54.7,-18.7 C57.0,-19.4 59.1,-19.5 61.1,-19.6 C63.1,-19.8 64.7,-19.9 66.7,-19.6 C68.7,-19.3 71.2,-18.9 73.2,-17.7 C75.2,-16.4 77.2,-14.1 78.8,-12.1 C80.3,-10.1 81.6,-8.2 82.5,-5.6 C83.4,-3.0 83.8,0.9 84.4,3.7 C85.0,6.5 85.4,8.9 86.2,11.1 C87.0,13.3 87.3,14.5 89.0,16.7 C90.7,18.9 94.6,21.9 96.5,24.2 C98.4,26.5 99.6,29.5 100.2,30.6 M30.4,-12.5 C31.8,-12.4 36.0,-12.5 38.8,-12.1 C41.6,-11.7 44.4,-11.1 47.2,-10.3 C50.0,-9.5 53.3,-8.3 55.6,-7.5 C57.9,-6.7 60.2,-6.0 61.1,-5.7 M61.1,-4.7 C62.0,-5.2 64.7,-6.7 66.7,-7.5 C68.7,-8.3 70.4,-9.2 73.2,-9.8 C76.0,-10.4 81.7,-10.8 83.4,-11.0 M53.7,-22.4 C54.9,-22.3 58.2,-22.0 61.1,-21.8 C64.0,-21.6 69.6,-21.1 71.3,-21.0 M31.4,0.4 C30.6,1.2 28.1,3.2 26.7,5.5 C25.3,7.8 23.9,11.1 23.0,13.9 C22.1,16.7 21.8,19.5 21.6,22.3 C21.5,25.1 21.9,28.4 22.1,30.6 C22.3,32.8 22.5,33.8 23.0,35.3 C23.5,36.8 24.6,39.1 24.9,39.9 M31.4,0.4 C32.3,1.1 35.1,2.8 37.0,4.6 C38.9,6.4 41.1,8.8 42.5,11.1 C43.9,13.4 44.5,15.4 45.3,18.6 C46.1,21.9 46.2,27.4 47.2,30.6 C48.2,33.8 48.8,35.7 51.0,38.0 C53.2,40.3 57.4,42.9 60.3,44.6 C63.2,46.3 65.9,47.4 68.5,48.3 C71.1,49.2 74.8,49.9 76.0,50.2 M32.3,18.5 C33.5,18.4 37.2,18.1 39.7,17.6 C42.2,17.1 44.7,16.5 47.2,15.3 C49.7,14.1 52.8,12.1 54.7,10.2 C56.6,8.2 57.6,5.3 58.4,3.6 C59.2,1.9 59.1,0.5 59.3,-0.1 M8.1,18.5 C9.0,18.7 11.8,19.1 13.7,19.9 C15.6,20.7 17.4,21.7 19.3,23.2 C21.2,24.7 24.0,27.9 24.9,28.8 M52.8,24.1 C53.7,23.0 57.0,19.1 58.4,17.6 C59.8,16.1 59.6,16.0 61.1,15.2 C62.6,14.4 66.5,13.4 67.6,13.0 M94.6,-20.0 C95.5,-19.1 98.5,-16.8 100.2,-14.9 C101.9,-13.0 103.7,-10.7 104.9,-8.4 C106.1,-6.1 107.1,-3.8 107.6,-1.0 C108.0,1.8 108.0,5.5 107.6,8.4 C107.1,11.3 106.8,14.4 104.9,16.7 C103.1,19.0 99.2,20.8 96.5,22.3 C93.8,23.9 91.0,24.6 89.0,26.0 C87.0,27.4 85.2,29.8 84.4,30.6 M109.5,-3.7 C109.4,-2.5 109.3,0.9 109.0,3.7 C108.7,6.5 108.3,10.2 107.6,13.0 C106.9,15.8 105.4,19.2 104.9,20.5 M83.4,11.1 C84.8,11.0 89.3,10.7 91.8,10.7 C94.3,10.7 96.1,10.9 98.3,11.1 C100.5,11.2 103.8,11.5 104.9,11.6 M90.9,-1.9 C91.8,-2.8 94.5,-5.8 96.5,-7.5 C98.5,-9.2 100.5,-11.2 103.0,-12.1 C105.5,-13.0 110.0,-12.8 111.4,-13.0 M64.8,20.5 C65.1,22.2 65.5,27.7 66.7,30.6 C68.0,33.5 69.8,35.8 72.3,38.0 C74.8,40.2 78.3,42.1 81.6,43.6 C84.8,45.1 88.7,45.5 91.8,46.9 C94.9,48.3 97.6,49.8 100.2,52.0 C102.8,54.2 105.9,57.4 107.6,60.4 C109.3,63.4 109.9,68.2 110.4,69.7 M64.8,19.5 C66.0,19.3 69.3,18.8 72.3,18.1 C75.2,17.4 80.0,16.6 82.5,15.3 C85.0,14.0 86.4,11.0 87.2,10.2 M68.5,46.4 C68.7,45.0 68.6,40.6 69.5,38.0 C70.4,35.4 71.8,32.8 74.0,30.6 C76.2,28.5 79.5,26.6 82.5,25.1 C85.5,23.6 88.8,22.3 91.8,21.4 C94.8,20.5 98.8,19.8 100.2,19.5 M101.1,27.9 C102.2,27.4 105.7,25.7 107.6,25.1 C109.5,24.5 111.5,24.4 112.3,24.2 M21.6,39.0 C23.4,39.3 29.0,40.1 32.3,40.9 C35.6,41.7 39.0,42.4 41.6,43.6 C44.2,44.8 46.3,46.6 48.2,48.3 C50.1,50.0 51.7,51.9 52.8,53.9 C53.9,55.9 54.1,58.4 54.7,60.4 C55.3,62.4 55.4,64.3 56.5,66.0 C57.6,67.7 60.3,69.8 61.1,70.6 M30.5,30.6 C30.6,31.5 30.9,33.9 31.4,36.2 C31.9,38.5 32.5,42.1 33.3,44.6 C34.1,47.1 35.2,49.4 36.1,51.1 C37.0,52.8 37.7,53.6 38.9,54.8 C40.1,56.0 41.5,57.2 43.5,58.5 C45.5,59.8 48.5,61.4 51.0,62.3 C53.5,63.2 57.2,63.8 58.4,64.1 M5.8,47.8 C7.4,47.8 12.3,47.6 15.6,47.8 C18.9,48.0 22.7,48.5 25.8,49.2 C28.9,49.9 32.0,51.1 34.2,52.0 C36.4,52.9 36.7,53.8 38.9,54.3 C41.1,54.8 43.5,55.0 47.2,55.3 C50.9,55.6 57.2,56.1 61.1,56.0 C65.0,55.9 68.9,55.0 70.4,54.8 M14.2,38.0 C14.3,39.1 14.4,42.3 15.1,44.6 C15.8,46.9 16.9,49.7 18.4,52.0 C19.9,54.3 21.8,56.8 24.0,58.5 C26.2,60.2 29.4,61.2 31.4,62.3 C33.4,63.4 34.9,63.8 36.1,65.0 C37.4,66.2 38.1,68.0 38.9,69.7 C39.7,71.4 40.2,73.1 40.7,75.3 C41.2,77.5 41.5,81.5 41.6,82.7 M5.3,77.1 C6.7,76.3 10.8,74.0 13.7,72.5 C16.6,71.0 19.3,69.0 23.0,67.8 C26.7,66.6 32.4,65.6 36.1,65.5 C39.8,65.4 42.9,66.5 45.4,67.4 C47.9,68.3 50.1,70.5 51.0,71.1 M21.2,76.2 C22.4,75.9 26.4,75.5 28.6,74.4 C30.8,73.3 32.7,71.9 34.2,69.7 C35.8,67.5 37.1,63.8 37.9,61.3 C38.7,58.8 37.6,57.1 38.9,54.8 C40.1,52.5 43.1,49.2 45.4,47.4 C47.7,45.6 51.6,44.6 52.8,44.1 M45.4,75.8 C47.0,75.6 52.1,74.8 54.7,74.4 C57.3,74.0 60.0,73.6 61.1,73.4 M79.7,56.7 C81.2,56.2 87.0,54.2 89.0,53.4 C91.0,52.6 91.3,52.2 91.8,52.0 M61.1,72.5 C62.7,71.7 67.8,69.5 70.4,67.8 C73.0,66.1 74.4,63.8 76.9,62.3 C79.4,60.8 82.0,59.7 85.3,59.0 C88.6,58.3 93.4,58.3 96.5,58.1 C99.6,57.9 102.7,57.7 103.9,57.6 M61.1,72.5 C62.3,73.1 65.7,75.0 68.5,76.2 C71.3,77.4 74.6,79.1 77.9,79.9 C81.2,80.8 86.4,81.1 88.1,81.3 M80.6,30.6 C80.8,32.1 80.8,37.1 81.6,39.9 C82.4,42.7 83.8,45.2 85.3,47.4 C86.8,49.6 89.2,50.7 90.9,52.9 C92.6,55.1 94.3,57.9 95.5,60.4 C96.7,62.9 97.7,65.3 98.3,67.8 C98.9,70.3 99.1,74.0 99.3,75.3 M96.5,30.6 C96.2,32.1 95.2,37.1 94.6,39.9 C94.0,42.7 93.1,46.1 92.8,47.4 M107.6,30.6 C108.8,30.7 113.8,30.9 115.1,31.0" stroke="#7399c8" stroke-width="0.85" stroke-opacity="0.75"/>
</g>
<path d="M523,571.8L553,541.8H644V632.8L614,662.8H523Z M523,571.8H614V662.8 M614,571.8L644,541.8" stroke="#5c99bd" stroke-width="2.2" fill="none" stroke-linejoin="miter"/>
</g>
<g>
<path d="M845.4,567.3L875.4,537.3H966.4L936.4,567.3Z" fill="url(#gTop)"/>
<path d="M936.4,567.3L966.4,537.3V628.3L936.4,658.3Z" fill="url(#gSide)"/>
<rect x="845.4" y="567.3" width="91" height="91" fill="url(#gFront)"/>
<g transform="translate(845.4,567.3)" fill="none" stroke-linecap="round">
<path d="M15.1,-3.3 C16.3,-3.2 20.0,-3.2 22.1,-2.9 C24.2,-2.6 25.9,-1.8 27.6,-1.5 C29.3,-1.2 30.4,-0.5 32.3,-1.0 C34.2,-1.5 37.1,-3.2 38.8,-4.7 C40.5,-6.2 41.1,-8.5 42.5,-10.3 C43.9,-12.1 45.2,-14.0 47.2,-15.4 C49.2,-16.8 52.4,-18.0 54.7,-18.7 C57.0,-19.4 59.1,-19.5 61.1,-19.6 C63.1,-19.8 64.7,-19.9 66.7,-19.6 C68.7,-19.3 71.2,-18.9 73.2,-17.7 C75.2,-16.4 77.2,-14.1 78.8,-12.1 C80.3,-10.1 81.6,-8.2 82.5,-5.6 C83.4,-3.0 83.8,0.9 84.4,3.7 C85.0,6.5 85.4,8.9 86.2,11.1 C87.0,13.3 87.3,14.5 89.0,16.7 C90.7,18.9 94.6,21.9 96.5,24.2 C98.4,26.5 99.6,29.5 100.2,30.6 M30.4,-12.5 C31.8,-12.4 36.0,-12.5 38.8,-12.1 C41.6,-11.7 44.4,-11.1 47.2,-10.3 C50.0,-9.5 53.3,-8.3 55.6,-7.5 C57.9,-6.7 60.2,-6.0 61.1,-5.7 M61.1,-4.7 C62.0,-5.2 64.7,-6.7 66.7,-7.5 C68.7,-8.3 70.4,-9.2 73.2,-9.8 C76.0,-10.4 81.7,-10.8 83.4,-11.0 M53.7,-22.4 C54.9,-22.3 58.2,-22.0 61.1,-21.8 C64.0,-21.6 69.6,-21.1 71.3,-21.0 M31.4,0.4 C30.6,1.2 28.1,3.2 26.7,5.5 C25.3,7.8 23.9,11.1 23.0,13.9 C22.1,16.7 21.8,19.5 21.6,22.3 C21.5,25.1 21.9,28.4 22.1,30.6 C22.3,32.8 22.5,33.8 23.0,35.3 C23.5,36.8 24.6,39.1 24.9,39.9 M31.4,0.4 C32.3,1.1 35.1,2.8 37.0,4.6 C38.9,6.4 41.1,8.8 42.5,11.1 C43.9,13.4 44.5,15.4 45.3,18.6 C46.1,21.9 46.2,27.4 47.2,30.6 C48.2,33.8 48.8,35.7 51.0,38.0 C53.2,40.3 57.4,42.9 60.3,44.6 C63.2,46.3 65.9,47.4 68.5,48.3 C71.1,49.2 74.8,49.9 76.0,50.2 M32.3,18.5 C33.5,18.4 37.2,18.1 39.7,17.6 C42.2,17.1 44.7,16.5 47.2,15.3 C49.7,14.1 52.8,12.1 54.7,10.2 C56.6,8.2 57.6,5.3 58.4,3.6 C59.2,1.9 59.1,0.5 59.3,-0.1 M8.1,18.5 C9.0,18.7 11.8,19.1 13.7,19.9 C15.6,20.7 17.4,21.7 19.3,23.2 C21.2,24.7 24.0,27.9 24.9,28.8 M52.8,24.1 C53.7,23.0 57.0,19.1 58.4,17.6 C59.8,16.1 59.6,16.0 61.1,15.2 C62.6,14.4 66.5,13.4 67.6,13.0 M94.6,-20.0 C95.5,-19.1 98.5,-16.8 100.2,-14.9 C101.9,-13.0 103.7,-10.7 104.9,-8.4 C106.1,-6.1 107.1,-3.8 107.6,-1.0 C108.0,1.8 108.0,5.5 107.6,8.4 C107.1,11.3 106.8,14.4 104.9,16.7 C103.1,19.0 99.2,20.8 96.5,22.3 C93.8,23.9 91.0,24.6 89.0,26.0 C87.0,27.4 85.2,29.8 84.4,30.6 M109.5,-3.7 C109.4,-2.5 109.3,0.9 109.0,3.7 C108.7,6.5 108.3,10.2 107.6,13.0 C106.9,15.8 105.4,19.2 104.9,20.5 M83.4,11.1 C84.8,11.0 89.3,10.7 91.8,10.7 C94.3,10.7 96.1,10.9 98.3,11.1 C100.5,11.2 103.8,11.5 104.9,11.6 M90.9,-1.9 C91.8,-2.8 94.5,-5.8 96.5,-7.5 C98.5,-9.2 100.5,-11.2 103.0,-12.1 C105.5,-13.0 110.0,-12.8 111.4,-13.0 M64.8,20.5 C65.1,22.2 65.5,27.7 66.7,30.6 C68.0,33.5 69.8,35.8 72.3,38.0 C74.8,40.2 78.3,42.1 81.6,43.6 C84.8,45.1 88.7,45.5 91.8,46.9 C94.9,48.3 97.6,49.8 100.2,52.0 C102.8,54.2 105.9,57.4 107.6,60.4 C109.3,63.4 109.9,68.2 110.4,69.7 M64.8,19.5 C66.0,19.3 69.3,18.8 72.3,18.1 C75.2,17.4 80.0,16.6 82.5,15.3 C85.0,14.0 86.4,11.0 87.2,10.2 M68.5,46.4 C68.7,45.0 68.6,40.6 69.5,38.0 C70.4,35.4 71.8,32.8 74.0,30.6 C76.2,28.5 79.5,26.6 82.5,25.1 C85.5,23.6 88.8,22.3 91.8,21.4 C94.8,20.5 98.8,19.8 100.2,19.5 M101.1,27.9 C102.2,27.4 105.7,25.7 107.6,25.1 C109.5,24.5 111.5,24.4 112.3,24.2 M21.6,39.0 C23.4,39.3 29.0,40.1 32.3,40.9 C35.6,41.7 39.0,42.4 41.6,43.6 C44.2,44.8 46.3,46.6 48.2,48.3 C50.1,50.0 51.7,51.9 52.8,53.9 C53.9,55.9 54.1,58.4 54.7,60.4 C55.3,62.4 55.4,64.3 56.5,66.0 C57.6,67.7 60.3,69.8 61.1,70.6 M30.5,30.6 C30.6,31.5 30.9,33.9 31.4,36.2 C31.9,38.5 32.5,42.1 33.3,44.6 C34.1,47.1 35.2,49.4 36.1,51.1 C37.0,52.8 37.7,53.6 38.9,54.8 C40.1,56.0 41.5,57.2 43.5,58.5 C45.5,59.8 48.5,61.4 51.0,62.3 C53.5,63.2 57.2,63.8 58.4,64.1 M5.8,47.8 C7.4,47.8 12.3,47.6 15.6,47.8 C18.9,48.0 22.7,48.5 25.8,49.2 C28.9,49.9 32.0,51.1 34.2,52.0 C36.4,52.9 36.7,53.8 38.9,54.3 C41.1,54.8 43.5,55.0 47.2,55.3 C50.9,55.6 57.2,56.1 61.1,56.0 C65.0,55.9 68.9,55.0 70.4,54.8 M14.2,38.0 C14.3,39.1 14.4,42.3 15.1,44.6 C15.8,46.9 16.9,49.7 18.4,52.0 C19.9,54.3 21.8,56.8 24.0,58.5 C26.2,60.2 29.4,61.2 31.4,62.3 C33.4,63.4 34.9,63.8 36.1,65.0 C37.4,66.2 38.1,68.0 38.9,69.7 C39.7,71.4 40.2,73.1 40.7,75.3 C41.2,77.5 41.5,81.5 41.6,82.7 M5.3,77.1 C6.7,76.3 10.8,74.0 13.7,72.5 C16.6,71.0 19.3,69.0 23.0,67.8 C26.7,66.6 32.4,65.6 36.1,65.5 C39.8,65.4 42.9,66.5 45.4,67.4 C47.9,68.3 50.1,70.5 51.0,71.1 M21.2,76.2 C22.4,75.9 26.4,75.5 28.6,74.4 C30.8,73.3 32.7,71.9 34.2,69.7 C35.8,67.5 37.1,63.8 37.9,61.3 C38.7,58.8 37.6,57.1 38.9,54.8 C40.1,52.5 43.1,49.2 45.4,47.4 C47.7,45.6 51.6,44.6 52.8,44.1 M45.4,75.8 C47.0,75.6 52.1,74.8 54.7,74.4 C57.3,74.0 60.0,73.6 61.1,73.4 M79.7,56.7 C81.2,56.2 87.0,54.2 89.0,53.4 C91.0,52.6 91.3,52.2 91.8,52.0 M61.1,72.5 C62.7,71.7 67.8,69.5 70.4,67.8 C73.0,66.1 74.4,63.8 76.9,62.3 C79.4,60.8 82.0,59.7 85.3,59.0 C88.6,58.3 93.4,58.3 96.5,58.1 C99.6,57.9 102.7,57.7 103.9,57.6 M61.1,72.5 C62.3,73.1 65.7,75.0 68.5,76.2 C71.3,77.4 74.6,79.1 77.9,79.9 C81.2,80.8 86.4,81.1 88.1,81.3 M80.6,30.6 C80.8,32.1 80.8,37.1 81.6,39.9 C82.4,42.7 83.8,45.2 85.3,47.4 C86.8,49.6 89.2,50.7 90.9,52.9 C92.6,55.1 94.3,57.9 95.5,60.4 C96.7,62.9 97.7,65.3 98.3,67.8 C98.9,70.3 99.1,74.0 99.3,75.3 M96.5,30.6 C96.2,32.1 95.2,37.1 94.6,39.9 C94.0,42.7 93.1,46.1 92.8,47.4 M107.6,30.6 C108.8,30.7 113.8,30.9 115.1,31.0" stroke="#7399c8" stroke-width="0.85" stroke-opacity="0.72"/>
<path d="M50.5,-7.3 C50.3,-5.8 50.1,-1.1 49.5,2.0 C48.9,5.1 48.1,8.5 46.7,11.3 C45.3,14.1 43.3,16.8 41.1,18.8 C38.9,20.8 36.3,21.9 33.7,23.5 C31.1,25.1 27.3,26.9 25.3,28.1 C23.3,29.3 22.8,29.1 21.6,30.8 C20.4,32.5 18.9,35.6 17.9,38.2 C16.9,40.8 16.1,43.8 15.5,46.6 C14.9,49.4 14.8,53.6 14.6,55.0 M14.6,13.7 C14.8,14.9 15.3,17.9 16.0,20.7 C16.6,23.5 17.1,27.8 18.5,30.7 C19.9,33.6 22.2,36.0 24.4,38.2 C26.6,40.4 29.0,42.3 31.8,43.8 C34.6,45.3 38.0,46.3 41.1,47.1 C44.2,47.9 47.2,47.6 50.5,48.5 C53.8,49.4 58.9,51.6 60.6,52.2 M71.8,-18.4 C73.8,-18.1 80.0,-17.8 83.9,-16.6 C87.8,-15.4 91.9,-13.0 95.0,-11.0 C98.1,-9.0 100.3,-7.1 102.5,-4.5 C104.7,-1.9 106.8,1.9 108.1,4.8 C109.3,7.8 109.5,11.2 110.0,13.2 C110.5,15.2 110.8,16.3 110.9,16.9 M77.4,-11.0 C77.6,-9.6 77.4,-5.5 78.3,-2.6 C79.2,0.3 81.3,3.8 83.0,6.7 C84.7,9.7 86.7,12.5 88.5,15.1 C90.3,17.7 91.9,20.0 94.1,22.5 C96.3,25.0 100.3,28.7 101.6,29.9 M97.8,-21.7 C98.8,-20.4 102.2,-16.2 104.1,-13.8 C105.9,-11.4 107.5,-9.9 108.9,-7.3 C110.3,-4.7 112.1,-1.4 112.7,2.0 C113.3,5.4 112.7,11.3 112.7,13.2 M93.2,13.2 C94.1,13.8 97.1,15.5 98.8,16.9 C100.5,18.3 102.1,19.6 103.4,21.6 C104.7,23.6 105.7,26.4 106.5,29.0 C107.3,31.6 107.8,35.9 108.1,37.3 M60.6,6.7 C61.5,7.8 64.7,10.9 66.2,13.2 C67.8,15.5 68.4,18.2 69.9,20.7 C71.5,23.2 74.6,26.9 75.5,28.1 M74.6,40.1 C75.7,41.6 79.4,46.0 81.1,49.4 C82.8,52.8 83.9,56.1 84.8,60.6 C85.7,65.1 86.0,73.8 86.2,76.4 M60.6,55.9 C61.5,57.1 64.7,59.5 66.2,63.4 C67.8,67.3 69.3,76.6 69.9,79.2 M92.3,46.6 C93.2,47.7 96.2,50.5 97.8,53.1 C99.3,55.8 100.8,59.2 101.6,62.5 C102.4,65.8 102.3,71.0 102.5,72.7 M93.2,35.5 C95.1,35.6 102.5,36.2 104.4,36.4" stroke="#667079" stroke-width="0.85" stroke-opacity="0.75"/>
<path d="M27.6,84.3 C29.1,82.8 33.3,78.7 36.5,75.5 C39.7,72.3 43.6,68.3 46.7,65.2 C49.8,62.1 52.8,59.2 55.1,56.9 C57.4,54.6 58.1,53.5 60.6,51.5 C63.1,49.5 66.8,47.0 69.9,44.8 C73.0,42.6 76.1,40.0 79.2,38.2 C82.3,36.4 84.8,35.0 88.5,34.1 C92.2,33.2 99.4,32.9 101.6,32.7" stroke="#565c62" stroke-width="1.1"/>
</g>
<path d="M845.4,567.3L875.4,537.3H966.4V628.3L936.4,658.3H845.4Z M845.4,567.3H936.4V658.3 M936.4,567.3L966.4,537.3" stroke="#5c99bd" stroke-width="2.2" fill="none" stroke-linejoin="miter"/>
</g>
</svg>
</body></html>
